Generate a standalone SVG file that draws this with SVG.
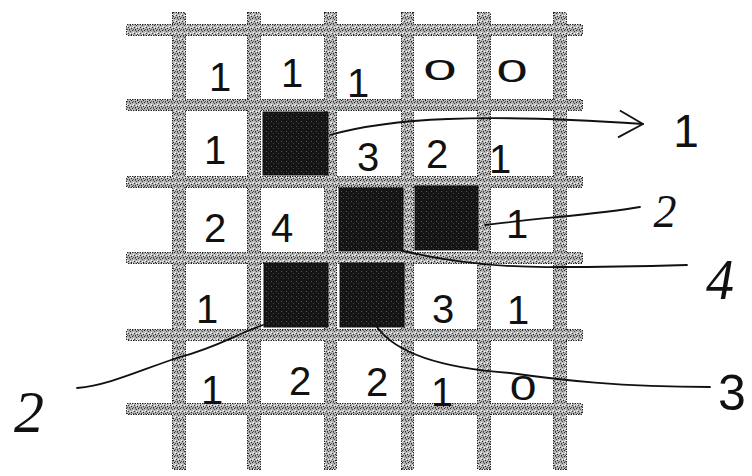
<svg xmlns="http://www.w3.org/2000/svg" width="752" height="476" viewBox="0 0 752 476">
<defs>
<pattern id="speck" width="6" height="6" patternUnits="userSpaceOnUse">
<rect width="6" height="6" fill="#b4b4b4"/>
<rect x="0" y="0" width="1" height="1" fill="#222"/>
<rect x="2" y="3" width="1" height="1" fill="#333"/>
<rect x="4" y="1" width="1" height="1" fill="#444"/>
<rect x="5" y="4" width="1" height="1" fill="#222"/>
<rect x="1" y="5" width="1" height="1" fill="#555"/>
<rect x="3" y="0" width="1" height="1" fill="#666"/>
<rect x="1" y="2" width="1" height="1" fill="#fff"/>
<rect x="4" y="3" width="1" height="1" fill="#fff"/>
<rect x="3" y="5" width="1" height="1" fill="#333"/>
<rect x="0" y="3" width="1" height="1" fill="#eee"/>
</pattern>
<pattern id="dark" width="5" height="5" patternUnits="userSpaceOnUse">
<rect width="5" height="5" fill="#151515"/>
<rect x="1" y="1" width="1" height="1" fill="#555"/>
<rect x="3" y="3" width="1" height="1" fill="#444"/>
</pattern>
<marker id="chev" markerUnits="userSpaceOnUse" markerWidth="30" markerHeight="34" refX="26" refY="15" orient="auto">
<path d="M2,3 L26,15 L2,30" fill="none" stroke="#111" stroke-width="1.8" stroke-linejoin="round"/>
</marker>
<style>
.edge{fill:none;stroke:#222;stroke-width:2;stroke-dasharray:1.5 1}
.band{fill:url(#speck)}
.blk{fill:url(#dark);stroke:#111;stroke-width:1}
.d{font-family:"Liberation Sans",Arial,sans-serif;font-size:40px;fill:#111;text-anchor:middle}
.lab{font-family:"Liberation Sans",Arial,sans-serif;fill:#111;text-anchor:middle}
.cur{font-family:"Liberation Serif","Times New Roman",serif;font-style:italic;fill:#111;text-anchor:middle}
.con{fill:none;stroke:#111;stroke-width:1.8;stroke-linecap:round}
</style>
</defs>
<rect width="752" height="476" fill="#fff"/>
<g id="grid">
<g id="grid-edges">
<rect class="edge" x="127" y="25" width="455" height="10"/>
<rect class="edge" x="127" y="100" width="455" height="10"/>
<rect class="edge" x="127" y="177" width="455" height="10"/>
<rect class="edge" x="127" y="253" width="455" height="10"/>
<rect class="edge" x="127" y="330" width="455" height="10"/>
<rect class="edge" x="127" y="404" width="455" height="10"/>
<rect class="edge" x="173" y="13" width="12" height="456"/>
<rect class="edge" x="248" y="13" width="12" height="456"/>
<rect class="edge" x="325" y="13" width="11" height="456"/>
<rect class="edge" x="402" y="13" width="11" height="456"/>
<rect class="edge" x="478" y="13" width="12" height="456"/>
<rect class="edge" x="554" y="13" width="12" height="456"/>
</g>
<g id="grid-fill">
<rect class="band" x="127" y="25" width="455" height="10"/>
<rect class="band" x="127" y="100" width="455" height="10"/>
<rect class="band" x="127" y="177" width="455" height="10"/>
<rect class="band" x="127" y="253" width="455" height="10"/>
<rect class="band" x="127" y="330" width="455" height="10"/>
<rect class="band" x="127" y="404" width="455" height="10"/>
<rect class="band" x="173" y="13" width="12" height="456"/>
<rect class="band" x="248" y="13" width="12" height="456"/>
<rect class="band" x="325" y="13" width="11" height="456"/>
<rect class="band" x="402" y="13" width="11" height="456"/>
<rect class="band" x="478" y="13" width="12" height="456"/>
<rect class="band" x="554" y="13" width="12" height="456"/>
</g>
</g>
<g id="mine-r2c2"><rect class="blk" x="263" y="112" width="65" height="63"/></g>
<g id="mine-r3c3"><rect class="blk" x="339" y="188" width="64" height="63"/></g>
<g id="mine-r3c4"><rect class="blk" x="415" y="186" width="63" height="64"/></g>
<g id="mine-r4c2"><rect class="blk" x="264" y="263" width="64" height="64"/></g>
<g id="mine-r4c3"><rect class="blk" x="340" y="263" width="64" height="64"/></g>
<g id="numbers">
<g id="row1">
<text class="d" x="220" y="91">1</text>
<text class="d" x="292" y="87">1</text>
<text class="d" x="358" y="97">1</text>
<text class="d" transform="translate(440,80) scale(1.5,0.75)">0</text>
<text class="d" transform="translate(512,82) scale(1.4,0.8)">0</text>
</g>
<g id="row2">
<text class="d" x="215" y="164">1</text>
<text class="d" x="368" y="171">3</text>
<text class="d" x="437" y="168">2</text>
<text class="d" x="500" y="173">1</text>
</g>
<g id="row3">
<text class="d" x="215" y="242">2</text>
<text class="d" x="282" y="242">4</text>
<text class="d" x="517" y="238">1</text>
</g>
<g id="row4">
<text class="d" x="207" y="323">1</text>
<text class="d" x="443" y="323">3</text>
<text class="d" x="518" y="324">1</text>
</g>
<g id="row5">
<text class="d" x="212" y="404">1</text>
<text class="d" x="300" y="395">2</text>
<text class="d" x="377" y="396">2</text>
<text class="d" x="442" y="406">1</text>
<text class="d" transform="translate(523,400) scale(1.2,0.9)">0</text>
</g>
</g>
<g id="connectors">
<path class="con" d="M330,135 C390,118 480,113 643,124" marker-end="url(#chev)"/>
<path class="con" d="M485,225 C540,218 600,214 640,207"/>
<path class="con" d="M403,251 C450,262 500,268 560,267 C610,267 650,266 687,265"/>
<path class="con" d="M377,327 C395,352 440,368 510,373 C560,380 620,387 710,387"/>
<path class="con" d="M263,325 C235,335 215,348 180,357 C140,370 110,385 77,388"/>
</g>
<g id="labels">
<g id="label-1"><text class="lab" x="686" y="147" font-size="46">1</text></g>
<g id="label-2a"><text class="cur" x="665" y="227" font-size="46">2</text></g>
<g id="label-4"><text class="cur" x="720" y="299" font-size="56">4</text></g>
<g id="label-3"><text class="lab" x="732" y="410" font-size="50">3</text></g>
<g id="label-2b"><text class="cur" x="29" y="432" font-size="60">2</text></g>
</g>
</svg>
